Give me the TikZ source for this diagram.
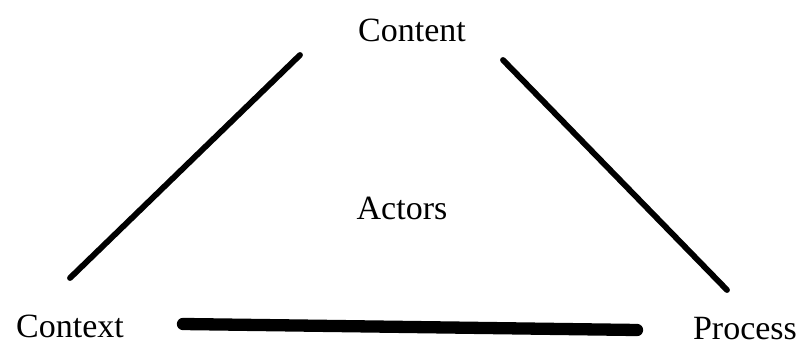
\documentclass[tikz,border=0pt]{standalone}
\usepackage{fontspec}
\setmainfont{Liberation Serif}
\tikzset{
  word/.style={inner sep=0pt,font=\fontsize{29}{34}\selectfont},
  side/.style={line width=5pt,line cap=round},
  base/.style={line width=10.5pt,line cap=round}
}
\begin{document}
\begin{tikzpicture}
   \useasboundingbox (0,0) rectangle (24.06,10.5);
   % corner words
   \node[word] (content) at (12.36,9.6) {Content};
   \node[word] (actors) at (12.06,4.26) {Actors};
   \node[word] (context) at (2.1,0.72) {Context};
   \node[word] (process) at (22.35,0.63) {Process};
   % ends of the three sides
   \coordinate (lt) at (9.0,8.85);
   \coordinate (lb) at (2.1,2.16);
   \coordinate (rt) at (15.09,8.7);
   \coordinate (rb) at (21.81,1.8);
   \coordinate (bl) at (5.49,0.78);
   \coordinate (br) at (19.11,0.6);
   \draw[side] (lt) -- (lb);
   \draw[side] (rt) -- (rb);
   \draw[base] (bl) -- (br);
\end{tikzpicture}
\end{document}
